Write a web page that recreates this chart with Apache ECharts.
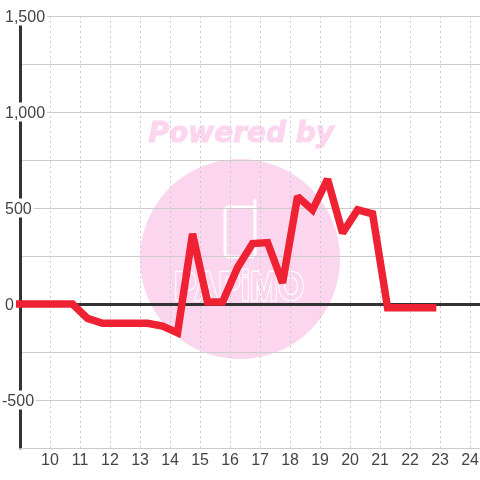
<!DOCTYPE html>
<html>
<head>
<meta charset="utf-8">
<style>
html, body { margin: 0; padding: 0; background: #fff; }
#main { width: 480px; height: 480px; }
</style>
<script src="https://cdn.jsdelivr.net/npm/echarts@6/dist/echarts.min.js"></script>
</head>
<body>
<div id="main"></div>
<script>
// half hour readings, hour of day against value
var hours = [8.75, 9.25, 9.75, 10.25, 10.75, 11.25, 11.75, 12.25, 12.75, 13.25, 13.75, 14.25, 14.75, 15.25, 15.75, 16.25, 16.75, 17.25, 17.75, 18.25, 18.75, 19.25, 19.75, 20.25, 20.75, 21.25, 21.75, 22.25, 22.75];
var values = [0, 0, 0, 0, 0, -75, -100, -100, -100, -100, -115, -150, 365, 10, 10, 190, 315, 320, 110, 560, 490, 650, 370, 490, 470, -20, -20, -20, -20];
var yTickLabels = [-500, 0, 500, 1000, 1500];

var points = hours.map(function (h, i) { return [h, values[i]]; });

var textColor = '#444';
var gridColor = '#ccc';
var pink = '#fcd5ee';

var myChart = echarts.init(document.getElementById('main'), null, { renderer: 'canvas' });

myChart.setOption({
	animation: false,
	backgroundColor: '#fff',
	textStyle: { fontFamily: 'Liberation Sans' },
	grid: { left: 20, right: 0, top: 16, bottom: 32, outerBoundsMode: 'none' },
	graphic: [
		{
			type: 'text', z: -10, left: 148, top: 120,
			style: { text: 'Powered by', fill: pink, stroke: pink, lineWidth: 1, font: 'italic bold 28px "DejaVu Sans"' }
		},
		{
			type: 'circle', z: -10, shape: { cx: 240, cy: 259, r: 100 },
			style: { fill: pink }
		},
		{
			type: 'rect', z: -9, shape: { x: 225, y: 207, width: 30, height: 50, r: 4 },
			style: { fill: 'none', stroke: '#fff', lineWidth: 3 }
		},
		{
			type: 'line', z: -9, shape: { x1: 255, y1: 200, x2: 255, y2: 210 },
			style: { stroke: '#fff', lineWidth: 3, lineCap: 'round' }
		},
		{
			type: 'text', z: -9, x: 174, y: 268, scaleX: 0.82,
			style: { text: 'PAPiMO', fill: pink, stroke: '#fff', lineWidth: 2.5, font: 'bold 41px "Liberation Sans"' }
		}
	],
	xAxis: [
		{
			type: 'value', min: 9, max: 24.33, interval: 1, position: 'bottom',
			axisLine: { onZero: false, lineStyle: { color: gridColor, width: 1 } },
			axisTick: { show: false },
			axisLabel: { showMinLabel: false, showMaxLabel: false, color: textColor, fontSize: 16, margin: 5 },
			splitLine: { show: true, lineStyle: { color: gridColor, width: 1, type: [2, 3] } }
		},
		{
			type: 'value', min: 9, max: 24.33, position: 'bottom',
			axisLine: { show: true, onZero: true, lineStyle: { color: '#333', width: 3 } },
			axisTick: { show: false },
			axisLabel: { show: false },
			splitLine: { show: false }
		}
	],
	yAxis: {
		type: 'value', min: -750, max: 1500, interval: 250,
		axisLine: { show: true, onZero: false, lineStyle: { color: '#333', width: 3 } },
		axisTick: { show: false },
		axisLabel: {
			showMinLabel: false,
			inside: true,
			margin: -18,
			color: textColor,
			formatter: function (v) {
				if (yTickLabels.indexOf(v) < 0) return '';
				var txt = echarts.format.addCommas(v);
				return v < 0 ? '{neg|' + txt + '}' : '{pos|' + txt + '}';
			},
			rich: {
				neg: { fontSize: 16, lineHeight: 14, color: textColor, backgroundColor: '#fff', padding: [3, 2, 0, 0] },
				pos: { fontSize: 16, lineHeight: 14, color: textColor, backgroundColor: '#fff', padding: [3, 2, 0, 3] }
			}
		},
		splitLine: { show: true, lineStyle: { color: gridColor, width: 1 } }
	},
	series: [
		{
			type: 'line',
			data: points,
			showSymbol: false,
			symbol: 'none',
			clip: true,
			lineStyle: { color: '#ee2233', width: 7.5, join: 'miter', miterLimit: 2, cap: 'square' },
			z: 5
		}
	]
});
</script>
</body>
</html>
